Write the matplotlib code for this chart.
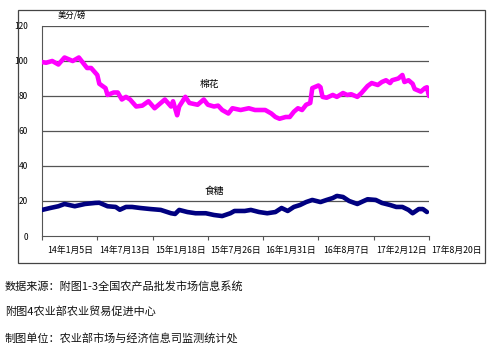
import numpy as np
import matplotlib
matplotlib.use("Agg")
import matplotlib.pyplot as plt
from matplotlib.patches import Rectangle

plt.rcParams['font.family'] = ['Noto Sans CJK SC', 'DejaVu Sans']

# week offsets from 2014-01-05 and prices (US cents / lb)
cotton_wk = [0, 2, 5, 8, 11, 15, 18, 20, 22, 24, 27, 28, 31, 32, 35, 37, 39, 41, 43, 46,
             49, 52, 55, 58, 60, 63, 64, 66, 67, 70, 72, 76, 79, 81, 84, 86, 88, 91, 93, 97,
             101, 104, 109, 112, 114, 116, 119, 121, 123, 125, 127, 129, 131, 132, 135, 136,
             137, 139, 142, 144, 147, 149, 151, 154, 156, 159, 161, 164, 166, 168, 170, 171,
             174, 176, 177, 179, 181, 182, 185, 187, 188, 189]
cotton = [99.4, 99, 100, 98, 102, 100, 102, 99, 96, 96, 92, 87, 84.5, 80.6, 82, 82, 78, 79.5, 78, 74,
          74.5, 77, 73, 76, 78, 74, 77, 69, 74, 79.5, 76, 75, 78, 75, 74, 74.5, 72, 70, 73, 72,
          73, 72, 72, 70, 68, 67, 68, 68, 71, 73, 72, 75, 76, 84.5, 86, 85,
          79.5, 79, 80.6, 79.5, 81.7, 80.6, 81, 79.5, 81.7, 85.7, 87.4, 86.3, 88, 89, 87.4, 89,
          90, 92, 88, 89, 87, 84, 82.5, 84.5, 85, 80]

sugar_wk = [0, 4, 8, 11, 16, 21, 26, 28, 32, 36, 38, 41, 44, 48, 53, 58, 63, 65, 67, 71,
            75, 80, 84, 88, 92, 94, 99, 102, 106, 110, 114, 117, 120, 123, 126, 129, 132, 136,
            139, 142, 144, 147, 150, 154, 156, 159, 163, 166, 170, 173, 176, 179, 181, 184,
            186, 188]
sugar = [14.9, 16, 17, 18.3, 17, 18.3, 18.9, 19, 17, 16.6, 15, 16.6, 16.6, 16, 15.4, 14.9, 13, 12.6, 14.9, 13.7,
         13, 13, 12, 11.4, 13, 14.3, 14.3, 14.9, 13.7, 13, 13.7, 16, 14.3, 16.6, 17.7, 19.4, 20.6, 19.4,
         20.6, 21.7, 22.9, 22.3, 20, 18.3, 19.4, 21, 20.6, 18.9, 17.7, 16.6, 16.6, 14.9, 13, 15.4,
         15.4, 13.7]

date_labels = ['14年1月5日', '14年7月13日', '15年1月18日', '15年7月26日',
               '16年1月31日', '16年8月7日', '17年2月12日', '17年8月20日']
label_step = 27

notes = ['数据来源：附图1-3全国农产品批发市场信息系统',
         '附图4农业部农业贸易促进中心',
         '制图单位：农业部市场与经济信息司监测统计处']

W, H = 500, 359
fig = plt.figure(figsize=(W / 100, H / 100), dpi=100)
fig.patches.append(Rectangle((18 / W, 1 - 263 / H), (485 - 18) / W, (263 - 10) / H,
                             transform=fig.transFigure, fill=False,
                             edgecolor='#444444', linewidth=0.9))

ax = fig.add_axes([42 / W, 1 - 236 / H, (429 - 42) / W, (236 - 26) / H])
ax.set_xlim(0, label_step * 7)
ax.set_ylim(0, 120)

for v in range(20, 121, 20):
    ax.axhline(v, color='#555555', linewidth=0.9, zorder=1)

ax.plot(cotton_wk, cotton, color='#FF00FF', linewidth=3.3,
        solid_joinstyle='round', solid_capstyle='round', zorder=3)
ax.plot(sugar_wk, sugar, color='#000080', linewidth=3.3,
        solid_joinstyle='round', solid_capstyle='round', zorder=3)

ax.set_yticks(range(0, 121, 20))
ax.set_yticklabels([str(v) for v in range(0, 121, 20)], fontsize=6)
ax.tick_params(axis='y', length=0, pad=10)

ax.set_xticks([label_step * i for i in range(8)])
ax.set_xticklabels([])
ax.tick_params(axis='x', length=3, color='#555555', width=0.8)
for i, lab in enumerate(date_labels):
    ax.text(label_step * i + label_step / 2, -8.5, lab, ha='center', va='center',
            fontsize=6.3, clip_on=False)

for s in ['top', 'right']:
    ax.spines[s].set_visible(False)
ax.spines['left'].set_color('#555555')
ax.spines['bottom'].set_color('#555555')

fig.text(58 / W, 1 - 16 / H, '美分/磅', fontsize=6, va='center')
ax.text(82, 87, '棉花', fontsize=7, ha='center', va='center')
ax.text(84, 26, '食糖', fontsize=7, ha='center', va='center')

for j, line in enumerate(notes):
    fig.text(5 / W, 1 - (286 + 26 * j) / H, line, fontsize=8, va='center', color='#111111')

fig.savefig('out.png', dpi=100)
